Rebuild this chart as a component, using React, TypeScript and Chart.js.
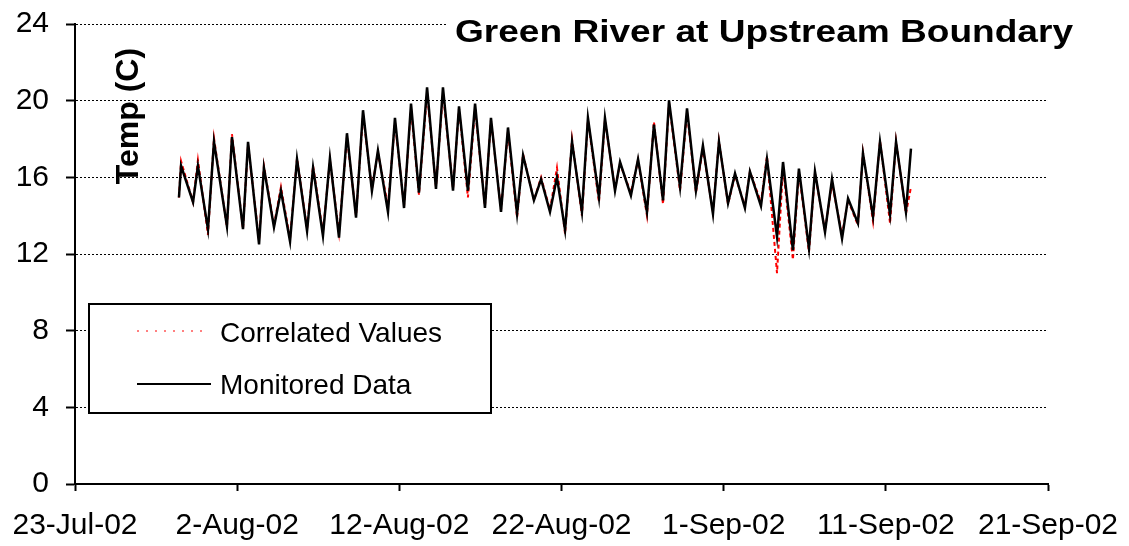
import React, { useEffect, useRef } from 'react';
import { Chart, registerables } from 'chart.js';

Chart.register(...registerables);

const TITLE = 'Green River at Upstream Boundary';
const Y_TITLE = 'Temp (C)';
const SERIES_NAMES = ['Correlated Values', 'Monitored Data'];
const X_TICK_LABELS = ['23-Jul-02', '2-Aug-02', '12-Aug-02', '22-Aug-02', '1-Sep-02', '11-Sep-02', '21-Sep-02'];
const Y_MIN = 0;
const Y_MAX = 24;
const Y_STEP = 4;
const X_MIN = 0;
const X_MAX = 60;
const X_STEP = 10;

// days since 23-Jul-02
const DAY_OFFSETS = [
  6.41, 6.54, 7.28, 7.58, 8.2, 8.57, 9.37, 9.68, 10.36, 10.67, 11.35, 11.65, 12.27, 12.7, 13.26, 13.69,
  14.31, 14.68, 15.29, 15.72, 16.28, 16.77, 17.33, 17.76, 18.31, 18.68, 19.3, 19.73, 20.29, 20.72,
  21.21, 21.71, 22.26, 22.69, 23.31, 23.68, 24.23, 24.67, 25.28, 25.65, 26.27, 26.7, 27.26, 27.63,
  28.3, 28.74, 29.29, 29.72, 30.22, 30.65, 31.26, 31.63, 32.31, 32.68, 33.3, 33.61, 34.28, 34.72,
  35.27, 35.7, 36.26, 36.63, 37.31, 37.74, 38.29, 38.72, 39.34, 39.71, 40.27, 40.7, 41.31, 41.62,
  42.3, 42.67, 43.29, 43.66, 44.27, 44.64, 45.26, 45.63, 46.25, 46.68, 47.3, 47.67, 48.28, 48.59,
  49.21, 49.64, 50.26, 50.63, 51.24, 51.55,
];

const MONITORED = [
  14.95, 16.6, 14.7, 16.6, 13.3, 17.85, 13.45, 18.1, 13.3, 17.85, 12.5, 16.5, 13.4, 15.3, 12.65, 16.95,
  13.2, 16.5, 12.95, 17.0, 12.85, 18.3, 13.9, 19.5, 15.3, 17.4, 14.2, 19.1, 14.4, 19.85,
  15.2, 20.7, 15.4, 20.7, 15.3, 19.7, 15.3, 19.85, 14.4, 19.1, 14.2, 18.6, 14.1, 17.15,
  14.8, 15.9, 14.2, 16.0, 13.25, 17.85, 14.2, 19.1, 14.95, 19.1, 15.3, 16.8, 15.05, 16.95,
  14.2, 18.75, 14.8, 20.0, 15.5, 19.6, 15.3, 17.65, 14.1, 17.85, 14.65, 16.2, 14.4, 16.3,
  14.5, 16.95, 12.9, 16.8, 12.2, 16.45, 12.3, 16.3, 13.15, 15.9, 12.8, 14.9, 13.6, 17.25,
  13.95, 17.85, 14.05, 17.85, 14.2, 17.5,
];

const CORRELATED = [
  14.95, 16.85, 14.7, 16.9, 13.0, 18.05, 13.4, 18.25, 13.3, 17.7, 12.7, 16.6, 13.5, 15.5, 12.8, 17.0,
  13.3, 16.6, 13.1, 16.9, 13.1, 18.1, 14.0, 19.3, 15.4, 17.3, 14.5, 18.9, 14.5, 19.6,
  15.1, 20.4, 15.5, 20.4, 15.4, 19.6, 14.95, 19.6, 14.5, 19.0, 14.3, 18.4, 13.9, 17.2,
  14.8, 16.0, 14.3, 16.5, 13.05, 18.0, 14.0, 19.0, 14.7, 19.0, 15.4, 16.7, 15.2, 16.9,
  14.0, 18.9, 14.6, 19.9, 15.3, 19.4, 15.2, 17.5, 14.2, 17.9, 14.6, 16.1, 14.5, 16.3,
  14.7, 17.1, 11.0, 16.5, 11.7, 16.3, 12.1, 16.2, 13.2, 15.7, 13.0, 14.8, 13.5, 17.3,
  13.7, 17.9, 13.6, 17.9, 14.1, 15.5,
];

const FONT = '"Liberation Sans", Arial, Helvetica, sans-serif';

const overlayPlugin = {
  id: 'overlay',
  afterDraw(chart: any) {
    const ctx = chart.ctx as CanvasRenderingContext2D;
    // Title with white background
    ctx.save();
    ctx.fillStyle = '#ffffff';
    ctx.fillRect(447, 8, 682, 44);
    ctx.font = `bold 32px ${FONT}`;
    const w = ctx.measureText(TITLE).width;
    ctx.fillStyle = '#000000';
    ctx.textBaseline = 'alphabetic';
    ctx.textAlign = 'left';
    ctx.translate(455, 42);
    ctx.scale(618 / w, 1);
    ctx.fillText(TITLE, 0, 0);
    ctx.restore();

    // Y axis title (inside plot)
    ctx.save();
    ctx.font = `bold 32px ${FONT}`;
    ctx.fillStyle = '#000000';
    ctx.translate(129, 116);
    ctx.rotate(-Math.PI / 2);
    ctx.textAlign = 'center';
    ctx.textBaseline = 'middle';
    ctx.fillText(Y_TITLE, 0, 0);
    ctx.restore();

    // Legend box
    ctx.save();
    ctx.fillStyle = '#ffffff';
    ctx.fillRect(89, 304, 402, 109);
    ctx.strokeStyle = '#000000';
    ctx.lineWidth = 2;
    ctx.strokeRect(89, 304, 402, 109);

    ctx.beginPath();
    ctx.strokeStyle = '#ff0000';
    ctx.lineWidth = 1;
    ctx.setLineDash([2, 7]);
    ctx.moveTo(137, 331);
    ctx.lineTo(208, 331);
    ctx.stroke();

    ctx.beginPath();
    ctx.setLineDash([]);
    ctx.strokeStyle = '#000000';
    ctx.lineWidth = 2;
    ctx.moveTo(137, 384);
    ctx.lineTo(211, 384);
    ctx.stroke();

    ctx.font = `28px ${FONT}`;
    ctx.fillStyle = '#000000';
    ctx.textAlign = 'left';
    ctx.textBaseline = 'alphabetic';
    ctx.fillText(SERIES_NAMES[0], 220, 342);
    ctx.fillText(SERIES_NAMES[1], 220, 394);
    ctx.restore();
  },
};

export default function App() {
  const ref = useRef<HTMLCanvasElement | null>(null);

  useEffect(() => {
    if (!ref.current) return;
    const monitored = DAY_OFFSETS.map((x, i) => ({ x, y: MONITORED[i] }));
    const correlated = DAY_OFFSETS.map((x, i) => ({ x, y: CORRELATED[i] }));

    const chart = new Chart(ref.current, {
      type: 'line',
      data: {
        datasets: [
          {
            label: SERIES_NAMES[0],
            data: correlated,
            borderColor: '#ff0000',
            borderWidth: 2,
            borderDash: [4, 3],
            pointRadius: 0,
            tension: 0,
            order: 2,
          },
          {
            label: SERIES_NAMES[1],
            data: monitored,
            borderColor: '#000000',
            borderWidth: 2.5,
            pointRadius: 0,
            tension: 0,
            order: 1,
          },
        ],
      },
      options: {
        animation: false,
        responsive: false,
        maintainAspectRatio: false,
        devicePixelRatio: 1,
        layout: { padding: { top: 24, right: 81, left: 0, bottom: 0 } },
        plugins: {
          legend: { display: false },
          title: { display: false },
          tooltip: { enabled: false },
        },
        scales: {
          x: {
            type: 'linear',
            min: X_MIN,
            max: X_MAX,
            afterFit: (s: any) => {
              s.height = 62;
              s.paddingLeft = 0;
              s.paddingRight = 0;
            },
            ticks: {
              stepSize: X_STEP,
              autoSkip: false,
              maxRotation: 0,
              padding: 17,
              color: '#000000',
              font: { family: FONT, size: 30 },
              callback: (v: any) => X_TICK_LABELS[Math.round((Number(v) - X_MIN) / X_STEP)] ?? '',
            },
            grid: {
              drawOnChartArea: false,
              drawTicks: true,
              tickLength: 7,
              tickWidth: 2,
              tickColor: '#000000',
              color: '#000000',
            },
            border: { display: true, color: '#000000', width: 2 },
          },
          y: {
            type: 'linear',
            min: Y_MIN,
            max: Y_MAX,
            afterFit: (s: any) => {
              s.width = 75;
              s.paddingTop = 0;
              s.paddingBottom = 0;
            },
            ticks: {
              stepSize: Y_STEP,
              padding: 17,
              color: '#000000',
              font: { family: FONT, size: 30 },
            },
            grid: {
              drawOnChartArea: true,
              drawTicks: true,
              tickLength: 9,
              tickWidth: 2,
              tickColor: '#000000',
              color: '#000000',
              lineWidth: 1,
            },
            border: { display: true, color: '#000000', width: 2, dash: [2, 2] },
          },
        },
      },
      plugins: [overlayPlugin],
    });
    return () => chart.destroy();
  }, []);

  return (
    <div style={{ position: 'fixed', left: 0, top: 0, width: 1129, height: 546, background: '#ffffff' }}>
      <canvas ref={ref} width={1129} height={546} style={{ width: 1129, height: 546, display: 'block' }} />
    </div>
  );
}
